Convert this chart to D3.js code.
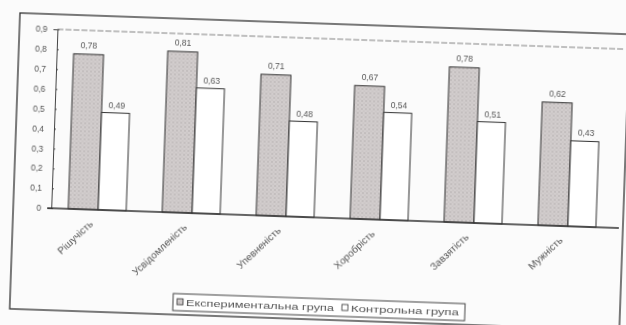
<!DOCTYPE html>
<html><head><meta charset="utf-8">
<script src="https://cdn.jsdelivr.net/npm/d3@7"></script>
<style>
html,body{margin:0;padding:0;background:#fbfbfb;}
svg{display:block;}
text{font-family:"Liberation Sans","DejaVu Sans",sans-serif;fill:#555;}
</style></head>
<body>
<script>
const categories = ["Рішучість","Усвідомленість","Упевненість","Хоробрість","Завзятість","Мужність"];
const experimental = [0.78,0.81,0.71,0.67,0.78,0.62];
const control = [0.49,0.63,0.48,0.54,0.51,0.43];
const yTicks = [0,0.1,0.2,0.3,0.4,0.5,0.6,0.7,0.8,0.9];
const seriesNames = ["Експериментальна група","Контрольна група"];

const W=626,H=325;
const svg=d3.select("body").append("svg").attr("width",W).attr("height",H);
const defs=svg.append("defs");
const pat=defs.append("pattern").attr("id","stip").attr("patternUnits","userSpaceOnUse").attr("width",4).attr("height",4);
pat.append("rect").attr("width",4).attr("height",4).attr("fill","#d2cdcd");
pat.append("circle").attr("cx",1).attr("cy",1).attr("r",0.7).attr("fill","#a9a3a3");
pat.append("circle").attr("cx",3).attr("cy",3).attr("r",0.6).attr("fill","#b8b2b2");
const blur=defs.append("filter").attr("id","soft");
blur.append("feGaussianBlur").attr("stdDeviation",0.35);

const g=svg.append("g").attr("transform","rotate(2,20,13)").attr("filter","url(#soft)");

// outer frame
g.append("rect").attr("x",20).attr("y",13).attr("width",610).attr("height",296)
 .attr("fill","none").attr("stroke","#333").attr("stroke-width",1.3);

const x=d3.scaleBand().domain(categories).range([58,622]).paddingInner(0);
const y=d3.scaleLinear().domain([0,0.9]).range([207,28]);
const bw=30;

// top line of plot area at 0.9
g.append("line").attr("x1",58).attr("x2",626).attr("y1",y(0.9)).attr("y2",y(0.9))
 .attr("stroke","#777").attr("stroke-width",0.9).attr("stroke-dasharray","6,2");

// y axis
const ya=g.append("g").attr("transform","translate(58,0)")
 .call(d3.axisLeft(y).tickValues(yTicks).tickSize(4).tickFormat(d=>d3.format(".1f")(d).replace(".",",").replace(/^0,0$/,"0")));
ya.select(".domain").attr("stroke","#444");
ya.selectAll(".tick line").attr("stroke","#444").attr("x2",2);
ya.selectAll(".tick text").attr("font-size",8.5).attr("fill","#555").attr("dx",-3);

// bars
const bars=g.append("g");
categories.forEach((c,i)=>{
  const cx=x(c)+x.bandwidth()/2;
  bars.append("rect").attr("x",cx-bw).attr("y",y(experimental[i])).attr("width",bw)
    .attr("height",y(0)-y(experimental[i])).attr("fill","url(#stip)").attr("stroke","#333").attr("stroke-width",1);
  bars.append("rect").attr("x",cx).attr("y",y(control[i])).attr("width",bw-2)
    .attr("height",y(0)-y(control[i])).attr("fill","#fff").attr("stroke","#333").attr("stroke-width",1);
  bars.append("text").attr("x",cx-bw/2).attr("y",y(experimental[i])-6).attr("text-anchor","middle")
    .attr("font-size",8.5).text(String(experimental[i]).replace(".",","));
  bars.append("text").attr("x",cx+bw/2).attr("y",y(control[i])-5).attr("text-anchor","middle")
    .attr("font-size",8.5).text(String(control[i]).replace(".",","));
});

// x axis baseline
g.append("line").attr("x1",54).attr("x2",626).attr("y1",y(0)).attr("y2",y(0)).attr("stroke","#333").attr("stroke-width",1.3);

// category labels
categories.forEach(c=>{
  const cx=x(c)+x.bandwidth()/2;
  g.append("text").attr("transform",`translate(${cx-4},${y(0)+15}) rotate(-45)`)
   .attr("text-anchor","end").attr("font-size",10).text(c);
});

// legend
const lg=g.append("g");
lg.append("rect").attr("x",183).attr("y",288).attr("width",292).attr("height",17)
  .attr("fill","#fff").attr("stroke","#444").attr("stroke-width",1);
lg.append("rect").attr("x",187).attr("y",293).attr("width",6).attr("height",6).attr("fill","url(#stip)").attr("stroke","#333").attr("stroke-width",0.8);
lg.append("text").attr("x",196).attr("y",300).attr("font-size",9).attr("textLength",148).attr("lengthAdjust","spacingAndGlyphs").text(seriesNames[0]);
lg.append("rect").attr("x",352).attr("y",293).attr("width",6).attr("height",6).attr("fill","#fff").attr("stroke","#333").attr("stroke-width",0.8);
lg.append("text").attr("x",361).attr("y",300).attr("font-size",9).attr("textLength",108).attr("lengthAdjust","spacingAndGlyphs").text(seriesNames[1]);
</script>
</body></html>
